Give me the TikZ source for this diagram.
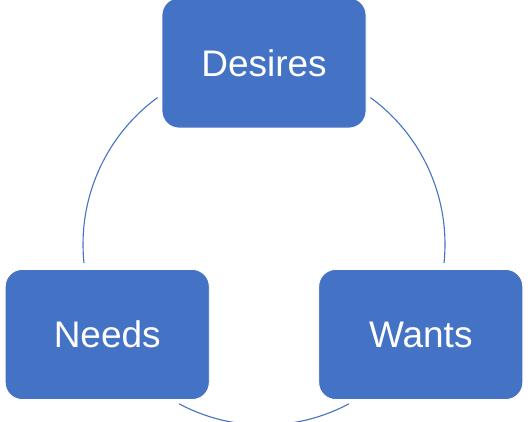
\documentclass[tikz,border=0pt]{standalone}
\usepackage{fontspec}
\setmainfont{Liberation Sans}
\usetikzlibrary{calc}
\definecolor{cycleblue}{HTML}{4472C4}

\begin{document}
\begin{tikzpicture}[
  x=1pt,y=1pt,
  stage/.style={draw=white,line width=0.8pt,fill=cycleblue,rounded corners=17pt,minimum width=204pt,minimum height=130pt,text=white,font=\fontsize{37}{44}\selectfont},
  link/.style={draw=cycleblue,line width=1.1pt}
]
\useasboundingbox (0,0) rectangle (532,422);
\coordinate (O) at (264,178);
\node[stage] (Desires) at ($(O)+(90:181)$) {Desires};
\node[stage] (Needs) at ($(O)+(210:181)$) {Needs};
\node[stage] (Wants) at ($(O)+(330:181)$) {Wants};
% arc ends, just off the boxes
\coordinate (DesNeedA) at ($(O)+(126:181)$);
\coordinate (DesNeedB) at ($(O)+(186:181)$);
\coordinate (NeedWantA) at ($(O)+(242:181)$);
\coordinate (NeedWantB) at ($(O)+(298:181)$);
\coordinate (WantDesA) at ($(O)+(354:181)$);
\coordinate (WantDesB) at ($(O)+(54:181)$);
\draw[link] (DesNeedA) to[bend right=30,looseness=0.91] (DesNeedB);
\draw[link] (NeedWantA) to[bend right=28,looseness=0.91] (NeedWantB);
\draw[link] (WantDesA) to[bend right=30,looseness=0.91] (WantDesB);
\end{tikzpicture}
\end{document}
